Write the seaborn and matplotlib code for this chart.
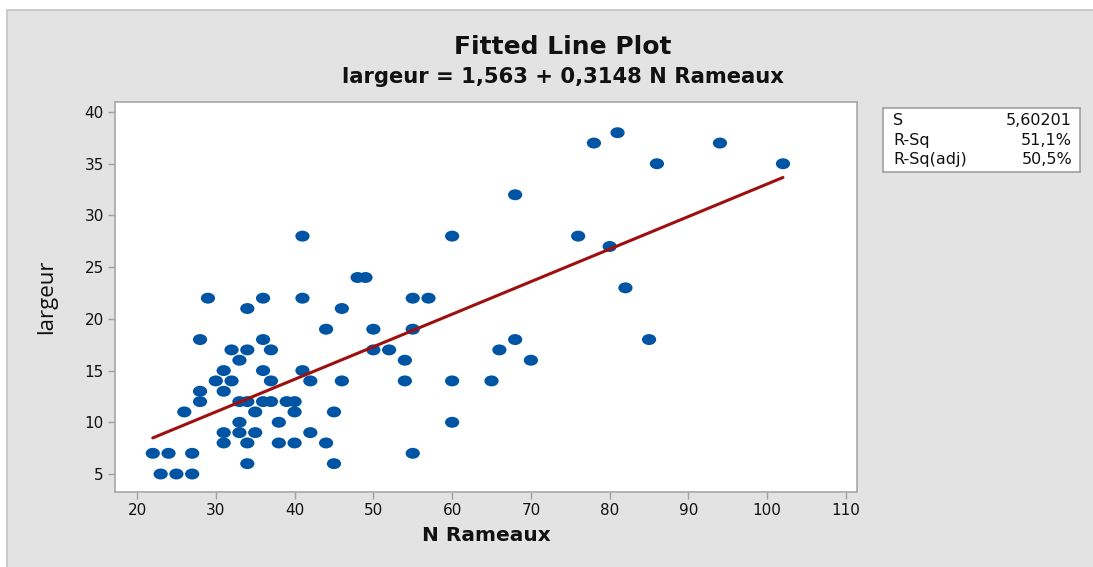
import numpy as np
import pandas as pd
import seaborn as sns
import matplotlib.pyplot as plt
from matplotlib.path import Path
from matplotlib.patches import Rectangle
from matplotlib.transforms import Affine2D

# Data (grouped by N Rameaux value)
n_rameaux = [22, 23, 24, 25, 26, 27, 27, 28, 28, 28, 29, 30,
             31, 31, 31, 31, 32, 32, 33, 33, 33, 33,
             34, 34, 34, 34, 34, 35, 35, 36, 36, 36, 36,
             37, 37, 37, 38, 38, 39, 40, 40, 40,
             41, 41, 41, 42, 42, 44, 44, 45, 45, 46, 46,
             48, 49, 50, 50, 52, 54, 54, 55, 55, 55, 57,
             60, 60, 60, 65, 66, 68, 68, 70,
             76, 78, 80, 81, 82, 85, 86, 94, 102]
largeur = [7, 5, 7, 5, 11, 5, 7, 12, 13, 18, 22, 14,
           15, 13, 9, 8, 17, 14, 16, 12, 10, 9,
           21, 17, 12, 8, 6, 11, 9, 22, 18, 15, 12,
           17, 14, 12, 10, 8, 12, 12, 11, 8,
           28, 22, 15, 14, 9, 19, 8, 11, 6, 21, 14,
           24, 24, 19, 17, 17, 16, 14, 22, 19, 7, 22,
           28, 14, 10, 14, 17, 32, 18, 16,
           28, 37, 27, 38, 23, 18, 35, 37, 35]
intercept = 1.563
slope = 0.3148
stats_labels = ["S", "R-Sq", "R-Sq(adj)"]
stats_values = ["5,60201", "51,1%", "50,5%"]

df = pd.DataFrame({"N Rameaux": n_rameaux, "largeur": largeur})

sns.set_theme(style="white")
plt.rcParams["font.family"] = ["DejaVu Sans"]

fig = plt.figure(figsize=(10.93, 5.67), dpi=100)
# grey panel behind everything, open at right/bottom edges
fig.patches.append(Rectangle((7 / 1093, -0.1), 1.2, 1.1 - 10 / 567, transform=fig.transFigure,
                             facecolor="#e3e3e3", edgecolor="#c4c4c4", lw=1.2, zorder=-10))

ax = fig.add_axes([0.1052, 0.1323, 0.6789, 0.6878])
ax.set_facecolor("white")

# ellipse marker (wider than tall)
ellipse = Path.unit_circle().transformed(Affine2D().scale(1.3, 1.0))
sns.scatterplot(data=df, x="N Rameaux", y="largeur", ax=ax, marker=ellipse,
                s=105, color="#0054a4", edgecolor="none", zorder=3)

xs = np.linspace(min(n_rameaux), max(n_rameaux), 50)
ax.plot(xs, intercept + slope * xs, color="#9e1010", lw=2.2, zorder=4)

ax.set_xlim(17.2, 111.4)
ax.set_ylim(3.26, 40.97)
ax.set_xticks(range(20, 111, 10))
ax.set_yticks(range(5, 41, 5))
ax.tick_params(axis="both", length=5, width=1, color="#a0a0a0", labelsize=11,
               labelcolor="#111111", pad=3, direction="out")
ax.tick_params(bottom=True, left=True)
for sp in ax.spines.values():
    sp.set_color("#a8a8a8")
    sp.set_linewidth(1.2)

ax.set_xlabel("N Rameaux", fontsize=14.5, fontweight="bold", color="#111111", labelpad=6)
ax.set_ylabel("largeur", fontsize=16, color="#111111", labelpad=20,
              family=["Open Sans", "DejaVu Sans"])

fig.text(0.5146, 0.917, "Fitted Line Plot", ha="center", va="center",
         fontsize=18, fontweight="bold", color="#111111")
fig.text(0.5146, 0.865, "largeur = 1,563 + 0,3148 N Rameaux", ha="center", va="center",
         fontsize=15.2, fontweight="bold", color="#111111")

# summary box
box = fig.add_axes([0.8079, 0.6966, 0.1802, 0.1129])
box.set_facecolor("white")
box.set_xticks([])
box.set_yticks([])
for sp in box.spines.values():
    sp.set_color("#a0a0a0")
    sp.set_linewidth(1.2)
for i, (lab, val) in enumerate(zip(stats_labels, stats_values)):
    yy = 0.8 - i * 0.3
    box.text(0.05, yy, lab, ha="left", va="center", fontsize=11.5, color="#111111",
             transform=box.transAxes)
    box.text(0.96, yy, val, ha="right", va="center", fontsize=11.5, color="#111111",
             transform=box.transAxes)

fig.savefig("out.png", dpi=100)
